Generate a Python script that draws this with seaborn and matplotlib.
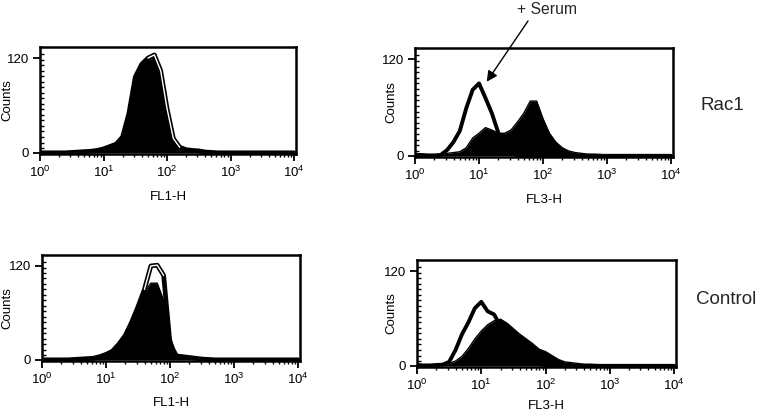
import numpy as np
import pandas as pd
import matplotlib
matplotlib.use("Agg")
import matplotlib.pyplot as plt
import seaborn as sns

# log10 channel positions (decades 10^0 .. 10^4)
decades = [round(0.1 * i, 1) for i in range(41)]

# Rac1, FL1-H
rac1_fl1_filled = [0, 0, 0, 0, 0, 0.5, 1, 1.5, 2, 3, 5, 8, 12, 22, 55, 100, 112, 118, 120, 90, 48,
                   14, 6, 4, 3, 2.5, 1, 0.5, 0, 0, 0, 0, 0, 0, 0, 0, 0, 0, 0, 0, 0]
rac1_fl1_open = [0, 0, 0, 0, 0, 0.5, 1, 1.5, 2, 3, 5, 8, 11, 20, 50, 96, 112, 120, 124, 104, 56,
                 18, 7, 4, 3, 2.5, 1, 0.5, 0, 0, 0, 0, 0, 0, 0, 0, 0, 0, 0, 0, 0]
# Rac1, FL3-H
rac1_fl3_filled = [2, 2, 1, 1, 2, 3, 4, 5, 10, 22, 28, 35, 32, 28, 28, 32, 42, 53, 68, 68, 46,
                   28, 17, 10, 6, 4, 3, 2, 2, 1.5, 1, 0.5, 0, 0, 0, 0, 0, 0, 0, 0, 0]
rac1_fl3_serum = [1, 1, 0.5, 0.5, 1, 7, 17, 31, 59, 82, 90, 72, 53, 29, 10, 3, 1, 0, 0, 0, 0,
                  0, 0, 0, 0, 0, 0, 0, 0, 0, 0, 0, 0, 0, 0, 0, 0, 0, 0, 0, 0]
# Control, FL1-H
ctrl_fl1_filled = [0, 0, 0, 0, 0, 0.5, 1, 1.5, 2, 4, 7, 11, 20, 31, 48, 68, 86, 98, 98, 76, 30,
                   6, 4, 3, 2, 1, 0.5, 0, 0, 0, 0, 0, 0, 0, 0, 0, 0, 0, 0, 0, 0]
ctrl_fl1_open = [0, 0, 0, 0, 0, 0.5, 1, 1.5, 2, 4, 7, 11, 20, 31, 48, 68, 90, 120, 121, 108, 20,
                 5, 4, 3, 2, 1, 0.5, 0, 0, 0, 0, 0, 0, 0, 0, 0, 0, 0, 0, 0, 0]
# Control, FL3-H
ctrl_fl3_filled = [2, 1, 1, 2, 2, 3, 6, 12, 22, 34, 44, 52, 57, 59, 54, 47, 40, 34, 28, 21, 18,
                   13, 8, 5, 4, 3, 2, 2, 1.5, 1, 0.5, 0, 0, 0, 0, 0, 0, 0, 0, 0, 0]
ctrl_fl3_serum = [1, 0.5, 0.5, 1, 1.5, 5, 20, 40, 55, 73, 81, 69, 65, 50, 35, 22, 13, 7, 4, 2, 1,
                  0, 0, 0, 0, 0, 0, 0, 0, 0, 0, 0, 0, 0, 0, 0, 0, 0, 0, 0, 0]

xlabels = ["FL1-H", "FL3-H"]
row_labels = ["Rac1", "Control"]
tick_labels = [r"$\mathregular{10^{%d}}$" % k for k in range(5)]
y_ticks = [0, 120]

sns.set_theme(style="white")
plt.rcParams["font.family"] = ["Liberation Sans", "DejaVu Sans"]
plt.rcParams["mathtext.fontset"] = "custom"
plt.rcParams["mathtext.rm"] = "Liberation Sans"

W, H = 766, 413
fig = plt.figure(figsize=(W / 100, H / 100), dpi=100)

# (left px, top px, right px, bottom px)
boxes = [(40, 47, 296, 154), (415, 48, 673, 157), (42, 255, 300, 361), (417, 260, 676, 367)]
label_x = [-0.105, -0.07, -0.112, -0.077]
xlabel_pad = [8, 8, 7, 5]
panels = [
    (rac1_fl1_filled, rac1_fl1_open, xlabels[0], True),
    (rac1_fl3_filled, rac1_fl3_serum, xlabels[1], False),
    (ctrl_fl1_filled, ctrl_fl1_open, xlabels[0], True),
    (ctrl_fl3_filled, ctrl_fl3_serum, xlabels[1], False),
]

minor_x = [k + np.log10(m) for k in range(4) for m in range(2, 10)]
axes = []
for (l, t, r, b), (filled, opened, xl, dbl), lx, lp in zip(boxes, panels, label_x, xlabel_pad):
    ax = fig.add_axes([l / W, 1 - b / H, (r - l) / W, (b - t) / H])
    axes.append(ax)
    df = pd.DataFrame({"x": decades, "filled": filled, "open": opened})
    ax.fill_between(df["x"], df["filled"], color="black", lw=0, zorder=2)
    sns.lineplot(data=df, x="x", y="filled", ax=ax, color="black", lw=1.0, zorder=3)
    sns.lineplot(data=df, x="x", y="open", ax=ax, color="black", lw=3.4 if dbl else 2.8, zorder=4)
    if dbl:
        # white core of the double outline, only where it stands above the filled histogram
        core = df["open"].where(df["open"] > df["filled"])
        ax.plot(df["x"], core, color="white", lw=1.0, zorder=5)
    ax.set_xlim(0, 4.03)
    ax.set_ylim(-1.5, 134)
    ax.set_xticks(range(5))
    ax.set_xticklabels(tick_labels, fontsize=9.5)
    ax.set_xticks(minor_x, minor=True)
    ax.set_yticks(y_ticks)
    ax.set_yticklabels([str(v) for v in y_ticks], fontsize=9.5)
    ax.set_yticks(np.arange(6, 130, 7), minor=True)
    ax.tick_params(axis="both", which="major", direction="out", length=5, width=1.3,
                   color="black", pad=3, labelcolor="black")
    ax.tick_params(axis="x", which="minor", direction="out", length=2, width=1, color="black",
                   bottom=True)
    ax.tick_params(axis="y", which="minor", direction="in", length=3, width=1, color="black",
                   left=True)
    ax.tick_params(axis="x", bottom=True)
    ax.tick_params(axis="y", left=True)
    for s in ax.spines.values():
        s.set_color("black")
        s.set_linewidth(1.8)
    ax.set_xlabel(xl, fontsize=9.5, color="black", labelpad=lp)
    ax.set_ylabel("Counts", fontsize=9.5, color="black")
    ax.yaxis.set_label_coords(lx, 0.5)

# row labels
fig.text(722 / W, 1 - 105 / H, row_labels[0], fontsize=13.5, ha="center", va="center")
fig.text(726 / W, 1 - 300 / H, row_labels[1], fontsize=13.5, ha="center", va="center")

# + Serum annotation
fig.text(547 / W, 1 - 9 / H, "+ Serum", fontsize=11.3, ha="center", va="center")
ax2 = axes[1]
ax2.annotate("", xy=(1.12, 92), xycoords="data",
             xytext=(528, H - 21), textcoords="figure pixels",
             arrowprops=dict(arrowstyle="-|>", color="black", lw=1.0, mutation_scale=16,
                             shrinkA=0, shrinkB=0),
             annotation_clip=False)

fig.savefig("out.png", dpi=100)
